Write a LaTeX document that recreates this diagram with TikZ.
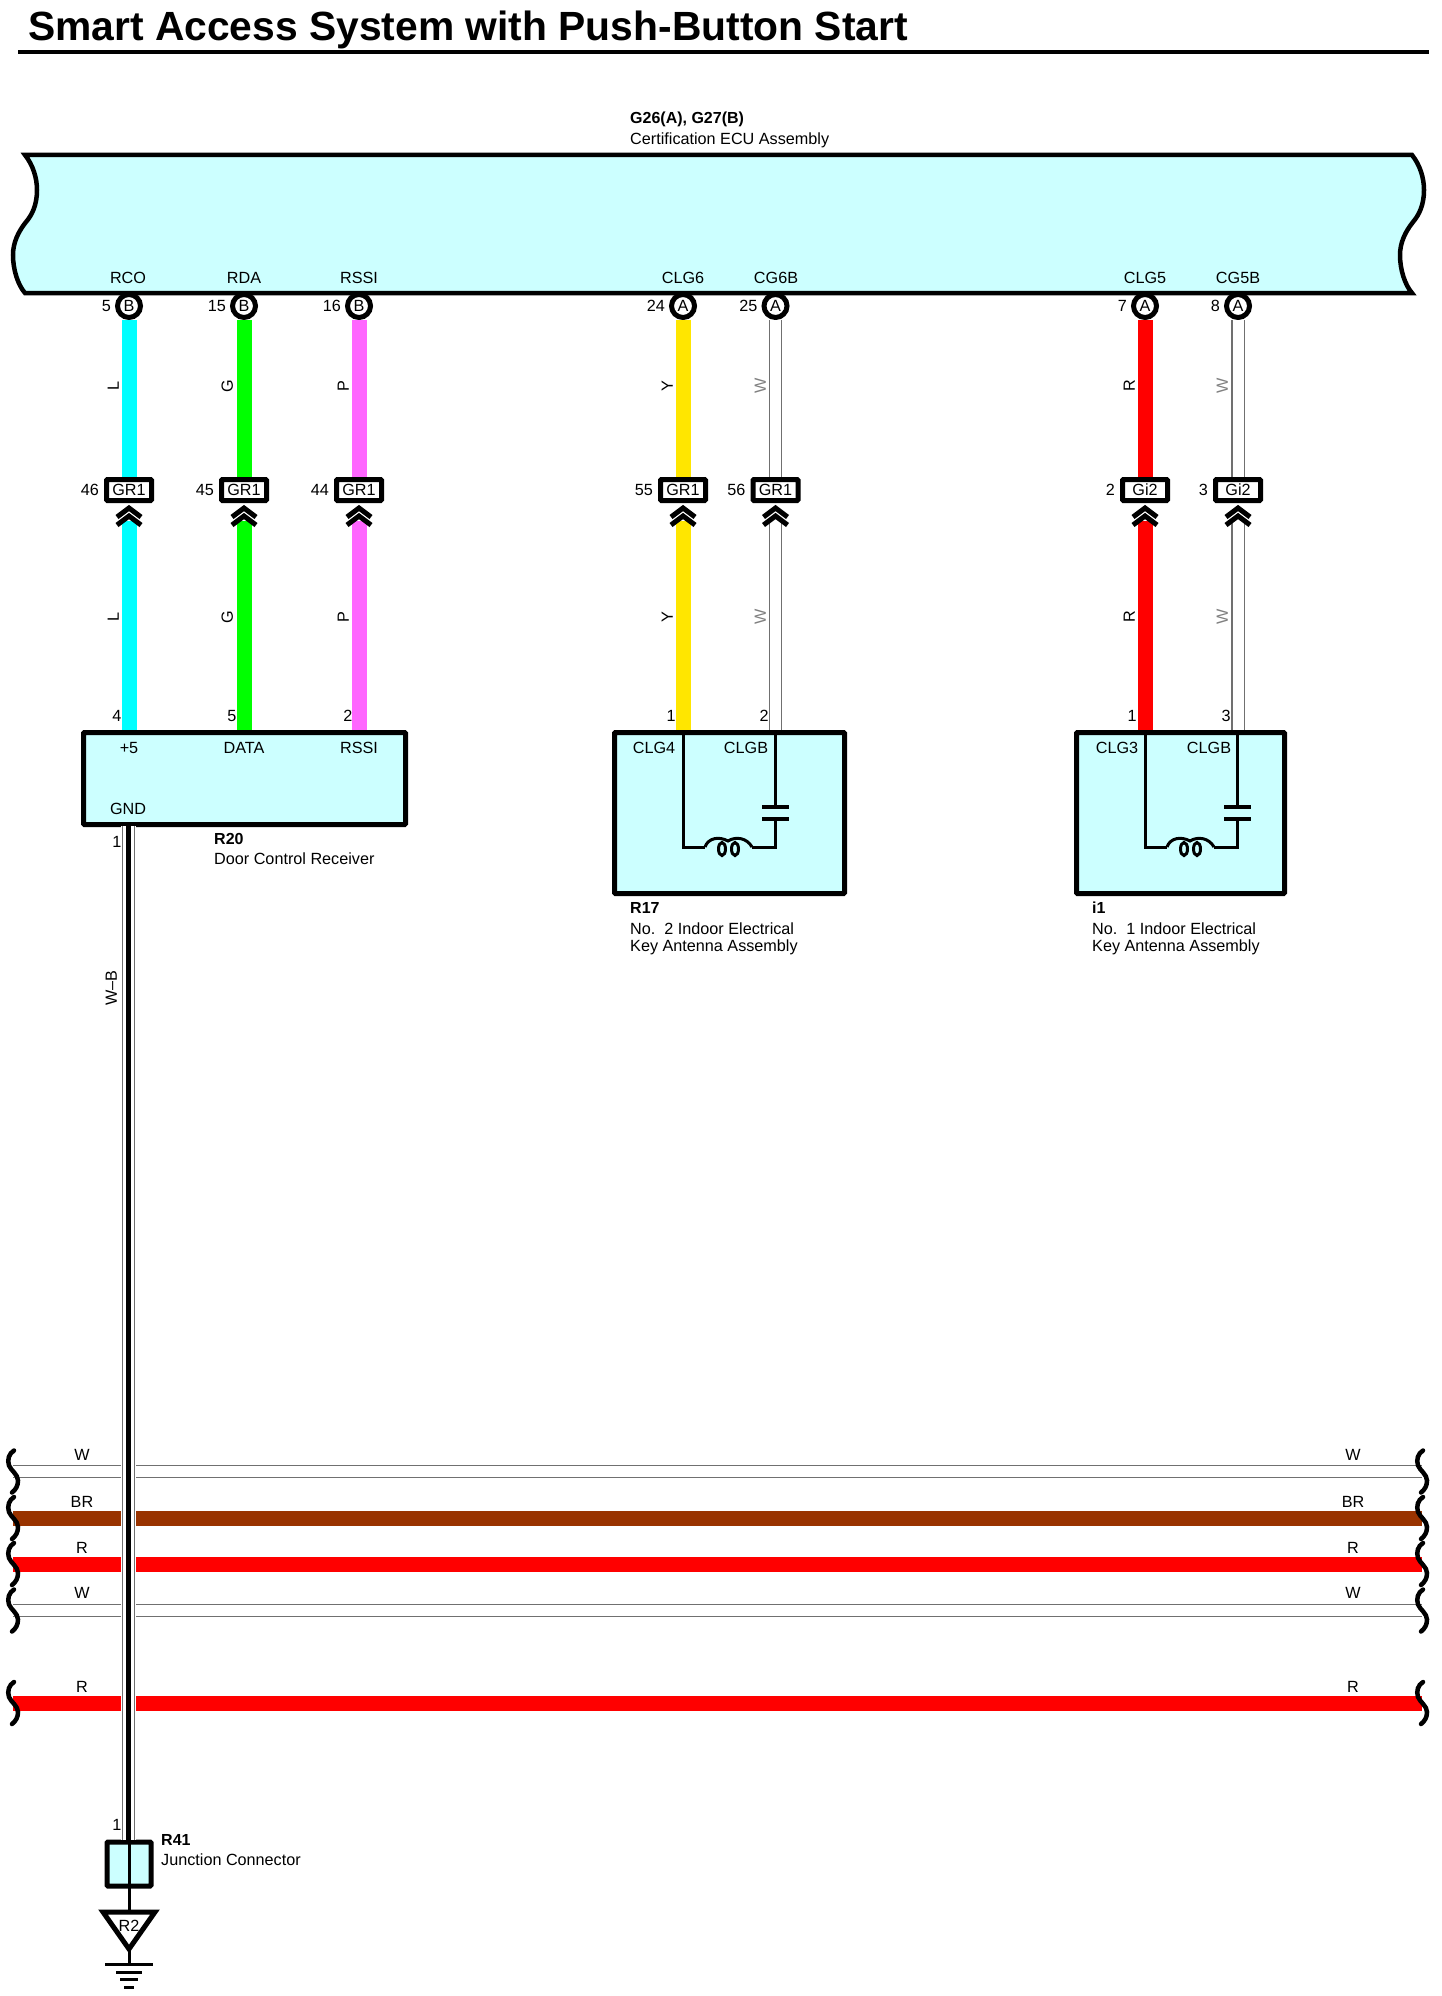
\documentclass[tikz,border=0pt]{standalone}
\usepackage{fontspec}
\setmainfont{Liberation Sans}
\usepackage{tikz}
\usetikzlibrary{positioning}
\definecolor{boxfill}{HTML}{CCFFFF}
\definecolor{wcyan}{HTML}{00FFFF}
\definecolor{wgreen}{HTML}{00FF00}
\definecolor{wred}{HTML}{FF0000}
\definecolor{wbrown}{HTML}{993300}
\definecolor{wpink}{HTML}{FF66FF}
\definecolor{wyellow}{HTML}{FFE600}
\definecolor{wgrey}{HTML}{707070}
\tikzset{
txt/.style={font=\fontsize{16.2}{18}\selectfont, inner sep=0pt, text height=11.5pt, text depth=0pt}, % all small labels
bold/.style={txt, font=\fontsize{16}{18}\selectfont\bfseries, anchor=west},
wlabel/.style={txt, rotate=90}, % wire colour letters
termpin/.style={txt, shape=circle, draw=black, line width=5pt, fill=white, minimum size=23pt},
connbox/.style={txt, shape=rectangle, draw=black, line width=5pt, fill=white, rounded corners=1pt, minimum width=45pt, minimum height=21pt},
partbox/.style={shape=rectangle, draw=black, line width=5pt, fill=boxfill, rounded corners=1pt, inner sep=0pt},
wirefat/.style={line width=15pt},
wirewhite/.style={draw=wgrey, line width=1.4pt, double=white, double distance=11pt},
wavy/.pic={\draw [line width=4.5pt, line cap=round] (1,-21) .. controls (-4,-18) and (-6,-12) .. (-4,-6) .. controls (-2,-1) and (5,3) .. (5,9) .. controls (5,14) and (3,18) .. (-1,21);},
chevrons/.pic={\draw [line width=5pt] (-12,-4) -- (0,-13) -- (12,-4) (-12,4) -- (0,-5) -- (12,4);},
antenna/.pic={
  \draw [line width=3pt] (0,0) -- (0,114) -- (22,114) (69,114) -- (92,114) -- (92,86) (92,74) -- (92,0);
  \draw [line width=3pt] (22,114) .. controls (25,105) and (36,103) .. (45,108) .. controls (53,103) and (64,105) .. (69,114);
  \draw [line width=3pt] (39,116) ellipse [x radius=3.5, y radius=6.5];
  \draw [line width=3pt] (52,116) ellipse [x radius=3.5, y radius=6.5];
  \draw [line width=4.5pt] (79,74) -- (106,74) (79,86) -- (106,86);
}
}
\begin{document}
\begin{tikzpicture}[x=1pt, y=-1pt]
        \useasboundingbox (0,0) rectangle (1441,1996);
        \node [font=\fontsize{40.8}{44}\selectfont\bfseries, inner sep=0pt, anchor=base west] (title) at (28,41) {Smart Access System with Push-Button Start};
        \draw [line width=4pt] (18,52) -- (1429,52);
        % ECU
        \node [bold] (ecuid) at (630,118) {G26(A), G27(B)};
        \node [txt, anchor=west] (ecuname) at (630,139) {Certification ECU Assembly};
        \draw [line width=4.5pt, fill=boxfill] (25,155) .. controls (33,165) and (37,178) .. (37,190) .. controls (37,205) and (32,215) .. (26,222) .. controls (18,232) and (13,243) .. (13,255) .. controls (13,270) and (18,285) .. (25,293)
            -- (1412,293) .. controls (1405,285) and (1400,270) .. (1400,255) .. controls (1400,243) and (1405,232) .. (1413,222) .. controls (1419,215) and (1424,205) .. (1424,190) .. controls (1424,178) and (1420,165) .. (1412,155) -- cycle;
        \node [txt] (sigrco) at (128,278) {RCO};
        \node [txt] (sigrda) at (244,278) {RDA};
        \node [txt] (sigrssi) at (359,278) {RSSI};
        \node [txt] (sigclg6) at (683,278) {CLG6};
        \node [txt] (sigcg6b) at (776,278) {CG6B};
        \node [txt] (sigclg5) at (1145,278) {CLG5};
        \node [txt] (sigcg5b) at (1238,278) {CG5B};
        \node [termpin] (pinrco) at (129,306) {B};
        \node [termpin] (pinrda) at (244,306) {B};
        \node [termpin] (pinrssi) at (359,306) {B};
        \node [termpin] (pinclg6) at (683,306) {A};
        \node [termpin] (pincg6b) at (775.5,306) {A};
        \node [termpin] (pinclg5) at (1145,306) {A};
        \node [termpin] (pincg5b) at (1238,306) {A};
        \node [txt, left=4pt of pinrco] (numrco) {5};
        \node [txt, left=4pt of pinrda] (numrda) {15};
        \node [txt, left=4pt of pinrssi] (numrssi) {16};
        \node [txt, left=4pt of pinclg6] (numclg6) {24};
        \node [txt, left=4pt of pincg6b] (numcg6b) {25};
        \node [txt, left=4pt of pinclg5] (numclg5) {7};
        \node [txt, left=4pt of pincg5b] (numcg5b) {8};
        % in-line connectors
        \node [connbox] (connrco) at (129,490) {GR1};
        \node [connbox] (connrda) at (244,490) {GR1};
        \node [connbox] (connrssi) at (359,490) {GR1};
        \node [connbox] (connclg6) at (683,490) {GR1};
        \node [connbox] (conncg6b) at (775.5,490) {GR1};
        \node [connbox] (connclg5) at (1145,490) {Gi2};
        \node [connbox] (conncg5b) at (1238,490) {Gi2};
        \node [txt, left=5pt of connrco] (jrco) {46};
        \node [txt, left=5pt of connrda] (jrda) {45};
        \node [txt, left=5pt of connrssi] (jrssi) {44};
        \node [txt, left=5pt of connclg6] (jclg6) {55};
        \node [txt, left=5pt of conncg6b] (jcg6b) {56};
        \node [txt, left=5pt of connclg5] (jclg5) {2};
        \node [txt, left=5pt of conncg5b] (jcg5b) {3};
        % parts
        \node [partbox, minimum width=322pt, minimum height=92pt] (r20) at (244.5,778.5) {};
        \node [partbox, minimum width=230pt, minimum height=161pt] (r17) at (729.5,813) {};
        \node [partbox, minimum width=208pt, minimum height=161pt] (i1) at (1180.5,813) {};
        \coordinate (chevrco) at (129,521);
        \coordinate (chevrda) at (244,521);
        \coordinate (chevrssi) at (359,521);
        \coordinate (chevclg6) at (683,521);
        \coordinate (chevcg6b) at (775.5,521);
        \coordinate (chevclg5) at (1145,521);
        \coordinate (chevcg5b) at (1238,521);
        % wires
        \draw [wirefat, wcyan] (pinrco) -- (connrco);
        \draw [wirefat, wcyan] (chevrco) -- (chevrco |- r20.north);
        \draw [wirefat, wgreen] (pinrda) -- (connrda);
        \draw [wirefat, wgreen] (chevrda) -- (chevrda |- r20.north);
        \draw [wirefat, wpink] (pinrssi) -- (connrssi);
        \draw [wirefat, wpink] (chevrssi) -- (chevrssi |- r20.north);
        \draw [wirefat, wyellow] (pinclg6) -- (connclg6);
        \draw [wirefat, wyellow] (chevclg6) -- (chevclg6 |- r17.north);
        \draw [wirewhite] (pincg6b) -- (conncg6b);
        \draw [wirewhite] (chevcg6b) -- (chevcg6b |- r17.north);
        \draw [wirefat, wred] (pinclg5) -- (connclg5);
        \draw [wirefat, wred] (chevclg5) -- (chevclg5 |- i1.north);
        \draw [wirewhite] (pincg5b) -- (conncg5b);
        \draw [wirewhite] (chevcg5b) -- (chevcg5b |- i1.north);
        \pic at (chevrco) {chevrons};
        \pic at (chevrda) {chevrons};
        \pic at (chevrssi) {chevrons};
        \pic at (chevclg6) {chevrons};
        \pic at (chevcg6b) {chevrons};
        \pic at (chevclg5) {chevrons};
        \pic at (chevcg5b) {chevrons};
        % wire colours
        \node [wlabel] (lrco) at (113,386) {L};
        \node [wlabel] (lrda) at (227,386) {G};
        \node [wlabel] (lrssi) at (343,386) {P};
        \node [wlabel] (lclg6) at (667,386) {Y};
        \node [wlabel, gray] (lcg6b) at (760,386) {W};
        \node [wlabel] (lclg5) at (1129,386) {R};
        \node [wlabel, gray] (lcg5b) at (1222,386) {W};
        \node [wlabel] (mrco) at (113,617) {L};
        \node [wlabel] (mrda) at (227,617) {G};
        \node [wlabel] (mrssi) at (343,617) {P};
        \node [wlabel] (mclg6) at (667,617) {Y};
        \node [wlabel, gray] (mcg6b) at (760,617) {W};
        \node [wlabel] (mclg5) at (1129,617) {R};
        \node [wlabel, gray] (mcg5b) at (1222,617) {W};
        % R20
        \node [txt] (t4) at (117,716) {4};
        \node [txt] (t5) at (232,716) {5};
        \node [txt] (t2) at (348,716) {2};
        \node [txt] (plus5) at (129,748) {+5};
        \node [txt] (data) at (244,748) {DATA};
        \node [txt] (rssi) at (359,748) {RSSI};
        \node [txt] (gnd) at (128,809) {GND};
        \node [bold] (r20id) at (214,839) {R20};
        \node [txt, anchor=west] (r20name) at (214,859) {Door Control Receiver};
        % R17
        \pic at (683,733) {antenna};
        \node [txt] (a1) at (671,716) {1};
        \node [txt] (a2) at (764,716) {2};
        \node [txt] (clg4) at (654,748) {CLG4};
        \node [txt] (clgb) at (746,748) {CLGB};
        \node [bold] (r17id) at (630,908) {R17};
        \node [txt, anchor=west] (r17a) at (630,929) {No.\ \ 2 Indoor Electrical};
        \node [txt, anchor=west] (r17b) at (630,946) {Key Antenna Assembly};
        % i1
        \pic at (1145,733) {antenna};
        \node [txt] (b1) at (1132,716) {1};
        \node [txt] (b3) at (1226,716) {3};
        \node [txt] (clg3) at (1117,748) {CLG3};
        \node [txt] (clgc) at (1209,748) {CLGB};
        \node [bold] (i1id) at (1092,908) {i1};
        \node [txt, anchor=west] (i1a) at (1092,929) {No.\ \ 1 Indoor Electrical};
        \node [txt, anchor=west] (i1b) at (1092,946) {Key Antenna Assembly};
        % other wires
        \coordinate (wl1) at (13,1471.5);
        \coordinate (wr1) at (1422,1471.5);
        \coordinate (wl2) at (13,1518);
        \coordinate (wr2) at (1422,1518);
        \coordinate (wl3) at (13,1564);
        \coordinate (wr3) at (1422,1564);
        \coordinate (wl4) at (13,1610.5);
        \coordinate (wr4) at (1422,1610.5);
        \coordinate (wl5) at (13,1703);
        \coordinate (wr5) at (1422,1703);
        \draw [wirewhite] (wl1) -- (wr1);
        \draw [wirefat, wbrown] (wl2) -- (wr2);
        \draw [wirefat, wred] (wl3) -- (wr3);
        \draw [wirewhite] (wl4) -- (wr4);
        \draw [wirefat, wred] (wl5) -- (wr5);
        \pic at (wl1) {wavy};
        \pic at (wr1) {wavy};
        \pic at (wl2) {wavy};
        \pic at (wr2) {wavy};
        \pic at (wl3) {wavy};
        \pic at (wr3) {wavy};
        \pic at (wl4) {wavy};
        \pic at (wr4) {wavy};
        \pic at (wl5) {wavy};
        \pic at (wr5) {wavy};
        \node [txt] (hw1) at (82,1455) {W};
        \node [txt] (hb2) at (82,1502) {BR};
        \node [txt] (hr3) at (82,1548) {R};
        \node [txt] (hw4) at (82,1593) {W};
        \node [txt] (hr5) at (82,1687) {R};
        \node [txt] (kw1) at (1353,1455) {W};
        \node [txt] (kb2) at (1353,1502) {BR};
        \node [txt] (kr3) at (1353,1548) {R};
        \node [txt] (kw4) at (1353,1593) {W};
        \node [txt] (kr5) at (1353,1687) {R};
        % ground wire
        \node [partbox, minimum width=44pt, minimum height=44pt] (r41) at (129,1864) {};
        \coordinate (gndout) at (128.5,826);
        \draw [white, line width=15pt] (gndout) -- (gndout |- r41.north);
        \draw [wirewhite] (gndout) -- (gndout |- r41.north);
        \draw [line width=4.5pt] (gndout) -- (gndout |- r41.north);
        \node [wlabel] (wb) at (111,988) {W--B};
        \node [txt] (g1) at (117,842) {1};
        \node [txt] (r411) at (117,1825) {1};
        \node [bold] (r41id) at (161,1840) {R41};
        \node [txt, anchor=west] (r41name) at (161,1860) {Junction Connector};
        \coordinate (apex) at (129,1949);
        \draw [line width=3pt] (r41.north) -- (129,1912);
        \draw [line width=5pt] (103,1912) -- (155,1912) -- (apex) -- cycle;
        \node [txt] (r2) at (129,1926) {R2};
        \draw [line width=3pt] (apex) -- (129,1964);
        \draw [line width=3pt] (105,1964) -- (153,1964);
        \draw [line width=3pt] (116,1972) -- (142,1972);
        \draw [line width=3pt] (120,1979.5) -- (138,1979.5);
        \draw [line width=3pt] (124,1987) -- (134,1987);
        \end{tikzpicture}
\end{document}
